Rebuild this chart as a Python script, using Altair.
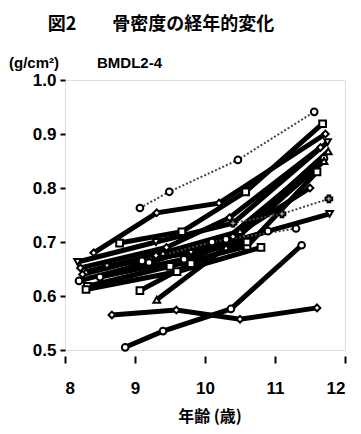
import altair as alt
import pandas as pd

# ---- data ----
series_ids = ["s1", "s2", "s3", "s4", "s5", "s6", "s7", "s8", "s9", "s10",
              "s11", "s12", "s13", "s14", "s15", "s16", "s17", "s18"]
ages = [
    [9.07, 9.49, 10.47, 11.56],
    [8.78, 9.67, 10.58, 11.68],
    [8.41, 9.31, 10.2, 11.72],
    [8.18, 9.3, 10.4, 11.75],
    [8.3, 9.4, 10.5, 11.76],
    [8.2, 9.2, 10.3, 11.7],
    [8.32, 9.5, 10.6, 11.6],
    [8.25, 9.3, 10.4, 11.5],
    [9.31, 10.3, 11.7],
    [10.4, 11.1, 11.77],
    [8.6, 9.8, 11.78],
    [8.3, 9.6, 10.8],
    [9.1, 10.1, 11.3],
    [8.67, 9.59, 10.5, 11.6],
    [8.86, 9.4, 10.37, 11.38],
    [9.07, 9.8, 10.6],
    [8.22, 9.45, 10.35, 11.65],
    [8.5, 9.7, 10.9],
]
bmd = [
    [0.763, 0.793, 0.852, 0.941],
    [0.698, 0.719, 0.793, 0.919],
    [0.68, 0.754, 0.772, 0.90],
    [0.663, 0.70, 0.735, 0.885],
    [0.645, 0.68, 0.72, 0.868],
    [0.628, 0.662, 0.705, 0.855],
    [0.618, 0.655, 0.692, 0.83],
    [0.64, 0.675, 0.71, 0.80],
    [0.593, 0.69, 0.85],
    [0.735, 0.752, 0.78],
    [0.655, 0.68, 0.752],
    [0.612, 0.645, 0.69],
    [0.665, 0.70, 0.725],
    [0.565, 0.574, 0.557, 0.578],
    [0.505, 0.535, 0.576, 0.694],
    [0.61, 0.66, 0.70],
    [0.652, 0.69, 0.745, 0.875],
    [0.635, 0.668, 0.72],
]
line_styles = ["dotted", "solid", "solid", "solid", "solid", "solid", "solid", "solid",
               "solid", "dotted", "solid", "solid", "dotted", "solid", "solid", "solid",
               "solid", "solid"]
markers = ["circle", "square", "diamond", "triangle-down", "triangle-up", "circle",
           "square", "diamond", "triangle-up", "cross", "triangle-down", "square",
           "circle", "diamond", "circle", "square", "diamond", "circle"]

title_text = "図2　　骨密度の経年的変化"
unit_text = "(g/cm²)"
sub_text = "BMDL2-4"
x_title = "年齢 (歳)"
x_ticks = [8, 9, 10, 11, 12]
y_ticks = [0.5, 0.6, 0.7, 0.8, 0.9, 1.0]

rows = []
for sid, xs, ys, st, mk in zip(series_ids, ages, bmd, line_styles, markers):
    for i, (a, b) in enumerate(zip(xs, ys)):
        rows.append({"id": sid, "age": a, "bmd": b, "style": st, "marker": mk, "order": i})
df = pd.DataFrame(rows)

X = alt.X("age:Q", scale=alt.Scale(domain=[8, 12], nice=False),
          axis=alt.Axis(values=x_ticks, format="d", title=None, grid=False, domain=False,
                        offset=6, tickSize=7, tickWidth=2, tickColor="black",
                        labelPadding=17, labelFontSize=17, labelFontWeight="bold",
                        labelFont="Liberation Sans", labelColor="black"))
Y = alt.Y("bmd:Q", scale=alt.Scale(domain=[0.5, 1.0], nice=False),
          axis=alt.Axis(values=y_ticks, format=".1f", title=None, grid=False, domain=False,
                        tickSize=5, tickWidth=2, tickColor="black", labelPadding=4,
                        labelFontSize=17, labelFontWeight="bold",
                        labelFont="Liberation Sans", labelColor="black"))

base = alt.Chart(df)

solid = base.transform_filter(alt.datum.style == "solid").mark_line(
    color="black", strokeWidth=5).encode(x=X, y=Y, detail="id:N", order="order:Q")
dotted = base.transform_filter(alt.datum.style == "dotted").mark_line(
    color="#444444", strokeWidth=2, strokeDash=[2, 2]).encode(
    x=X, y=Y, detail="id:N", order="order:Q")
points = base.mark_point(filled=True, fill="white", stroke="black", strokeWidth=2,
                         size=45, opacity=1).encode(
    x=X, y=Y, shape=alt.Shape("marker:N", scale=None))

def label(txt, x, y, size, align="left", font="Noto Sans CJK JP"):
    return alt.Chart(pd.DataFrame({"t": [txt]})).mark_text(
        align=align, baseline="middle", fontSize=size, fontWeight="bold",
        font=font, color="black").encode(text="t:N", x=alt.value(x), y=alt.value(y))

texts = [
    label(title_text, 96, -55, 18, align="center"),
    label(unit_text, -56, -17, 15, font="Liberation Sans"),
    label(sub_text, 32, -17, 15, font="Liberation Sans"),
    label(x_title, 145, 337, 16, align="center"),
]

chart = alt.layer(solid, dotted, points, *texts).properties(
    width=280, height=270,
    padding={"left": 57, "top": 72, "right": 8, "bottom": 78},
    autosize="none",
).configure_view(stroke="black", strokeWidth=5).configure(background="white")

chart.save("out.html", embed_options={"renderer": "svg", "actions": False})
